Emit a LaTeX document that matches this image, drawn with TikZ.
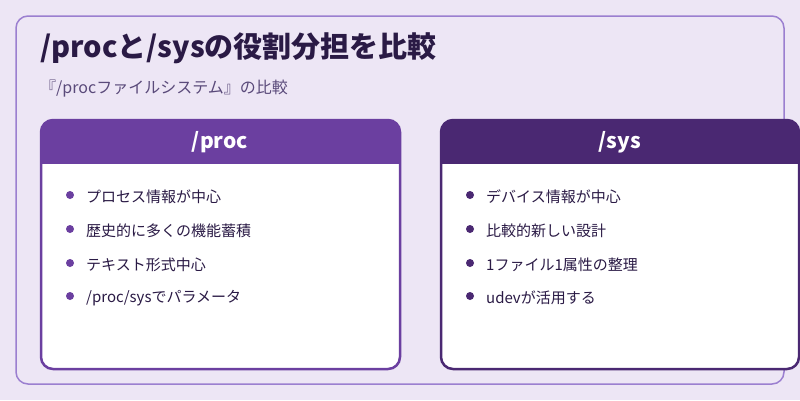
\documentclass[tikz,border=0pt]{standalone}
\usepackage{fontspec}
\setmainfont{Noto Sans CJK JP}
\newfontfamily\jpb{Noto Sans CJK JP}[BoldFont={* Bold}]
\definecolor{bg}{HTML}{EDE6F5}
\definecolor{frame}{HTML}{9B7FD0}
\definecolor{pa}{HTML}{6B3FA0}
\definecolor{pb}{HTML}{4A2872}
\definecolor{ttl}{HTML}{2A1A45}
\definecolor{sub}{HTML}{5A4A7A}
\definecolor{txt}{HTML}{2A1A45}
\begin{document}
\begin{tikzpicture}[x=1pt,y=-1pt,
  item/.style={anchor=west,font=\fontsize{15}{18}\selectfont,text=txt,inner sep=0},
  hdr/.style={font=\fontsize{21}{24}\selectfont\bfseries,text=white,inner sep=0}]
\useasboundingbox (0,0) rectangle (800,400);
\fill[bg] (0,0) rectangle (800,400);
\draw[frame,line width=1.5pt,rounded corners=12pt] (16,16) rectangle (784,384);
\node[anchor=west,inner sep=0,text=ttl,font=\fontsize{29}{34}\selectfont\bfseries] (title) at (40,48) {/procと/sysの役割分担を比較};
\node[anchor=west,inner sep=0,text=sub,font=\fontsize{16}{19}\selectfont] (subt) at (40,89) {『/procファイルシステム』の比較};
% left card
\fill[white,rounded corners=12pt] (41,120) rectangle (400,369);
\begin{scope}
\clip[rounded corners=12pt] (41,120) rectangle (400,369);
\fill[pa] (41,120) rectangle (400,164);
\end{scope}
\draw[pa,line width=2.5pt,rounded corners=12pt] (41,120) rectangle (400,369);
\node[hdr] (h1) at (220,142) {/proc};
\foreach \y/\t [count=\i] in {197/プロセス情報が中心,231/歴史的に多くの機能蓄積,265/テキスト形式中心,298/{/proc/sysでパラメータ}}{
  \fill[pa] (70,\y-2) circle (4);
  \node[item] (l\i) at (86,\y) {\t};
}
% right card
\fill[white,rounded corners=12pt] (441,120) rectangle (799,369);
\begin{scope}
\clip[rounded corners=12pt] (441,120) rectangle (799,369);
\fill[pb] (441,120) rectangle (799,164);
\end{scope}
\draw[pb,line width=2.5pt,rounded corners=12pt] (441,120) rectangle (799,369);
\node[hdr] (h2) at (620,142) {/sys};
\foreach \y/\t [count=\i] in {197/デバイス情報が中心,231/比較的新しい設計,265/1ファイル1属性の整理,298/udevが活用する}{
  \fill[pb] (470,\y-2) circle (4);
  \node[item] (r\i) at (486,\y) {\t};
}
\end{tikzpicture}
\end{document}
